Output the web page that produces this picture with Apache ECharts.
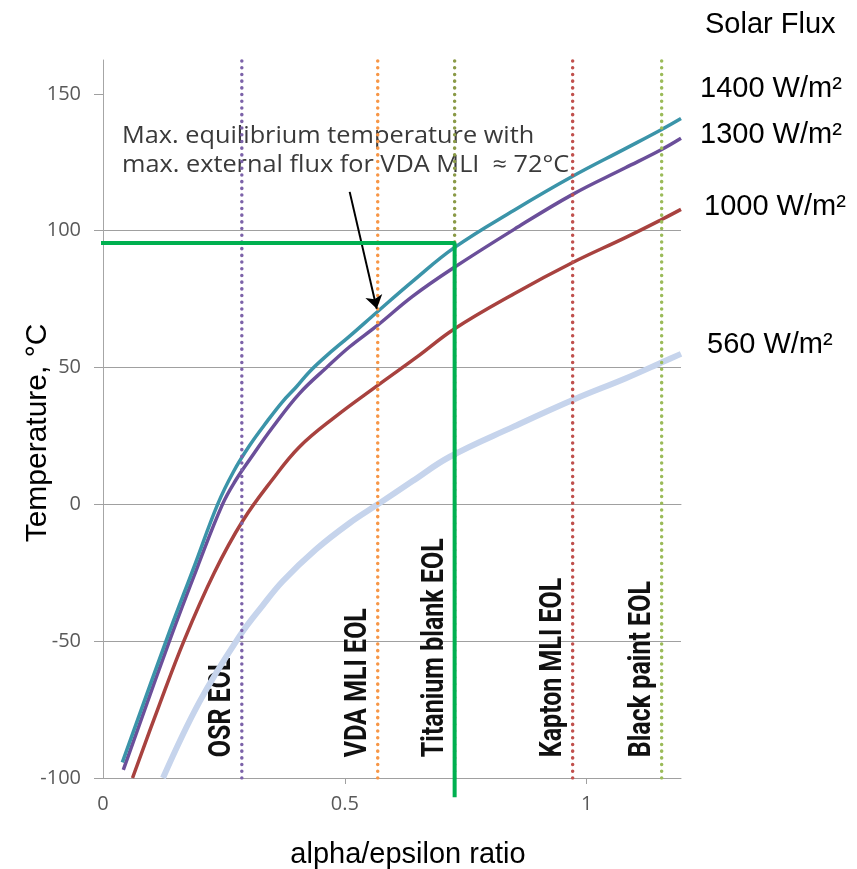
<!DOCTYPE html>
<html>
<head>
<meta charset="utf-8">
<script src="https://cdn.jsdelivr.net/npm/echarts@6/dist/echarts.min.js"></script>
<style>html,body{margin:0;padding:0;background:#fff}#main{width:857px;height:869px}</style>
</head>
<body>
<div id="main"></div>
<script>
// curves: [alpha/epsilon, temperature °C]
var flux1400 = [[0.040,-94.3],[0.131,-49.6],[0.19,-22],[0.237,0],[0.27,12],[0.303,21.5],[0.34,30.5],[0.371,37.5],[0.40,43],[0.427,48.5],[0.46,54],[0.51,61.5],[0.568,70.5],[0.64,81.5],[0.727,93.9],[0.85,107.5],[0.971,119.9],[1.08,130],[1.155,137],[1.195,141]];
var flux1300 = [[0.042,-97],[0.138,-49.6],[0.195,-23],[0.247,0],[0.275,9],[0.303,16.3],[0.35,28],[0.406,40.5],[0.464,50.3],[0.51,57.6],[0.568,65.5],[0.64,76],[0.721,86],[0.85,100.5],[0.971,113.3],[1.08,123],[1.155,129.7],[1.195,133.8]];
var flux1000 = [[0.061,-100],[0.115,-74],[0.168,-49.6],[0.23,-25],[0.289,-6],[0.35,9],[0.406,21],[0.48,32],[0.568,43.5],[0.65,54],[0.727,64.2],[0.85,77],[0.971,88.4],[1.08,97.5],[1.155,104.1],[1.195,107.8]];
var flux560 = [[0.124,-100],[0.2,-72],[0.283,-48],[0.33,-37],[0.372,-28],[0.44,-16.5],[0.51,-6.8],[0.568,0],[0.64,8.5],[0.717,17.4],[0.85,28.5],[0.977,38.6],[1.08,46],[1.163,52.5],[1.195,55]];
var fluxNames = ['1400 W/m²','1300 W/m²','1000 W/m²','560 W/m²'];

var eolNames = ['OSR EOL','VDA MLI EOL','Titanium blank EOL','Kapton MLI EOL','Black paint EOL'];
var eolX = [0.287, 0.568, 0.727, 0.971, 1.155];
var eolColors = ['#7C62A9','#F79646','#8A9A47','#C0504D','#9BBB59'];

var greenPath = [[-0.022,95.5],[0.727,95.5],[0.727,-107]];
var arrowFrom = [0.510,114.2];
var arrowTo = [0.566,71.5];

var yTicks = [-100,-50,0,50,100,150];
var xTicks = [0,0.5,1];
var yMin = -100, yMax = 162.4, xMax = 1.195;

var myChart = echarts.init(document.getElementById('main'));

var series = [];
var curveList = [flux560, flux1000, flux1300, flux1400];
var curveColors = ['#C6D4EC','#A8423F','#6B4F9A','#3B94A9'];
var curveWidths = [6, 3.5, 3.5, 3.5];
var curveNames = ['560 W/m²','1000 W/m²','1300 W/m²','1400 W/m²'];
for (var i = 0; i < curveList.length; i++) {
    series.push({
        name: curveNames[i],
        type: 'line',
        data: curveList[i],
        smooth: 0.4,
        showSymbol: false,
        lineStyle: {color: curveColors[i], width: curveWidths[i]},
        z: 3
    });
}
for (var j = 0; j < eolX.length; j++) {
    series.push({
        name: eolNames[j],
        type: 'line',
        data: [[eolX[j], yMin], [eolX[j], yMax]],
        showSymbol: false,
        lineStyle: {color: eolColors[j], width: 3.5, type: [0.1, 6.6], cap: 'round'},
        z: 4
    });
}
series.push({
    name: 'max',
    type: 'line',
    data: greenPath,
    clip: false,
    showSymbol: false,
    lineStyle: {color: '#00B050', width: 4},
    z: 5,
    markLine: {
        silent: true,
        symbol: ['none', 'arrow'],
        symbolSize: 13,
        label: {show: false},
        lineStyle: {color: '#000', width: 2, type: 'solid'},
        data: [[{coord: arrowFrom}, {coord: arrowTo}]]
    }
});

var tickFont = {fontFamily: 'Open Sans', fontSize: 20, color: '#595959'};

myChart.setOption({
    animation: false,
    grid: {left: 103, right: 176, top: 60, bottom: 91},
    xAxis: [
        {
            type: 'value', min: 0, max: xMax,
            axisLine: {show: true, lineStyle: {color: '#A0A0A0'}},
            axisTick: {show: false},
            splitLine: {show: false},
            axisLabel: Object.assign({customValues: xTicks, margin: 16}, tickFont)
        },
        {
            type: 'value', min: 0, max: xMax, position: 'bottom',
            axisLine: {show: true, onZero: true, lineStyle: {color: '#A0A0A0'}},
            axisTick: {show: true, length: 6, customValues: [0.5, 1], lineStyle: {color: '#A0A0A0'}},
            splitLine: {show: false},
            axisLabel: {show: false}
        }
    ],
    yAxis: {
        type: 'value', min: yMin, max: yMax,
        axisLine: {show: true, lineStyle: {color: '#A6A6A6'}},
        axisTick: {show: true, length: 9, customValues: yTicks, lineStyle: {color: '#A0A0A0'}},
        splitLine: {show: true, showMaxLine: false, lineStyle: {color: '#A0A0A0'}},
        axisLabel: Object.assign({customValues: yTicks, margin: 22}, tickFont)
    },
    series: series
});

// texts placed from the data scale
var graphics = [];
for (var k = 0; k < eolX.length; k++) {
    var p = myChart.convertToPixel({gridIndex: 0}, [eolX[k], -92.4]);
    graphics.push({
        type: 'text', x: p[0] - 4, y: p[1], rotation: Math.PI / 2, scaleY: 1.22,
        style: {text: eolNames[k], fontFamily: 'Roboto', fontWeight: 'bold', fontSize: 25,
                fill: '#111', align: 'left', verticalAlign: 'bottom'}
    });
}
graphics.push({
    type: 'text', x: 122, y: 122, scaleX: 1.1,
    style: {text: 'Max. equilibrium temperature with\nmax. external flux for VDA MLI  \u2248 72°C',
            fontFamily: 'Open Sans', fontSize: 23, lineHeight: 29, fill: '#3A3A3A',
            align: 'left', verticalAlign: 'top'}
});
var rightLabels = [['Solar Flux', 705, 25], [fluxNames[0], 700, 89], [fluxNames[1], 700, 135], [fluxNames[2], 704, 207], [fluxNames[3], 707, 345]];
for (var r = 0; r < rightLabels.length; r++) {
    graphics.push({
        type: 'text', x: rightLabels[r][1], y: rightLabels[r][2],
        style: {text: rightLabels[r][0], fontFamily: 'Liberation Sans', fontSize: 29,
                fill: '#000', align: 'left', verticalAlign: 'middle'}
    });
}
graphics.push({
    type: 'text', x: 408, y: 855,
    style: {text: 'alpha/epsilon ratio', fontFamily: 'Liberation Sans', fontSize: 29,
            fill: '#000', align: 'center', verticalAlign: 'middle'}
});
graphics.push({
    type: 'text', x: 38, y: 433, rotation: Math.PI / 2,
    style: {text: 'Temperature, °C', fontFamily: 'Liberation Sans', fontSize: 30,
            fill: '#000', align: 'center', verticalAlign: 'middle'}
});
myChart.setOption({graphic: graphics});
</script>
</body>
</html>
